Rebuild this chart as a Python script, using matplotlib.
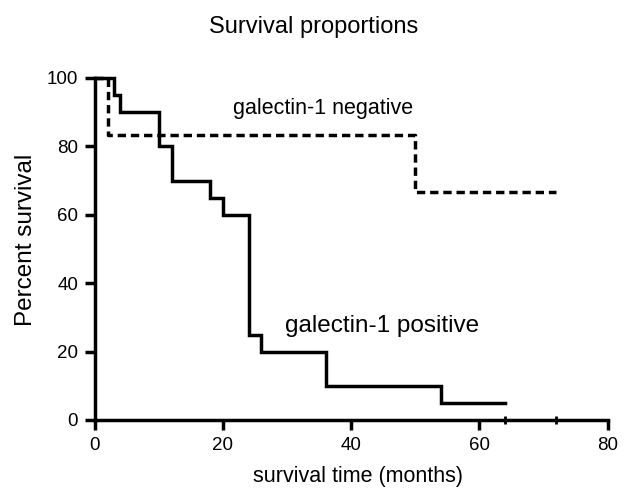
import matplotlib
matplotlib.use("Agg")
import matplotlib.pyplot as plt

plt.rcParams['font.family'] = ['Liberation Sans', 'DejaVu Sans']

# Data (Kaplan-Meier step curves)
pos_time = [0, 3, 4, 10, 12, 18, 20, 24, 26, 36, 54, 64]
pos_surv = [100, 95, 90, 80, 70, 65, 60, 25, 20, 10, 5, 5]
neg_time = [0, 2, 50, 72]
neg_surv = [100, 83.3, 66.7, 66.7]
censor_time = [64, 72]
censor_surv = [0, 0]
x_ticks = [0, 20, 40, 60, 80]
y_ticks = [0, 20, 40, 60, 80, 100]

W, H = 634, 504
fig = plt.figure(figsize=(W / 100, H / 100), dpi=100)
ax = fig.add_axes([94.7 / W, 1 - 420 / H, (607.7 - 94.7) / W, (420 - 78) / H])

lw = 2.5
ax.step(pos_time, pos_surv, where='post', color='black', lw=lw, clip_on=False,
        solid_joinstyle='miter')
ax.step(neg_time, neg_surv, where='post', color='black', lw=lw, clip_on=False,
        linestyle=(0, (2.4, 1.4)))
ax.plot(censor_time, censor_surv, linestyle='none', marker='|', color='black',
        markersize=6, mew=2, clip_on=False)

ax.set_xlim(0, 80)
ax.set_ylim(0, 100)
ax.set_xticks(x_ticks)
ax.set_yticks(y_ticks)
for s in ['top', 'right']:
    ax.spines[s].set_visible(False)
for s in ['left', 'bottom']:
    ax.spines[s].set_linewidth(lw)
ax.tick_params(axis='both', direction='out', length=7, width=lw, labelsize=13.5,
               pad=5, colors='black')

ax.text(21.6, 89.4, 'galectin-1 negative', fontsize=15.5, ha='left', va='baseline')
ax.text(29.7, 25.7, 'galectin-1 positive', fontsize=17.5, ha='left', va='baseline')

fig.text(314 / W, 1 - 33 / H, 'Survival proportions', fontsize=17,
         ha='center', va='baseline')
fig.text(26 / W, 1 - 240 / H, 'Percent survival', fontsize=17.5,
         ha='center', va='center', rotation=90)
fig.text(358 / W, 1 - 482 / H, 'survival time (months)', fontsize=15.5,
         ha='center', va='baseline')

fig.savefig('out.png', dpi=100)
